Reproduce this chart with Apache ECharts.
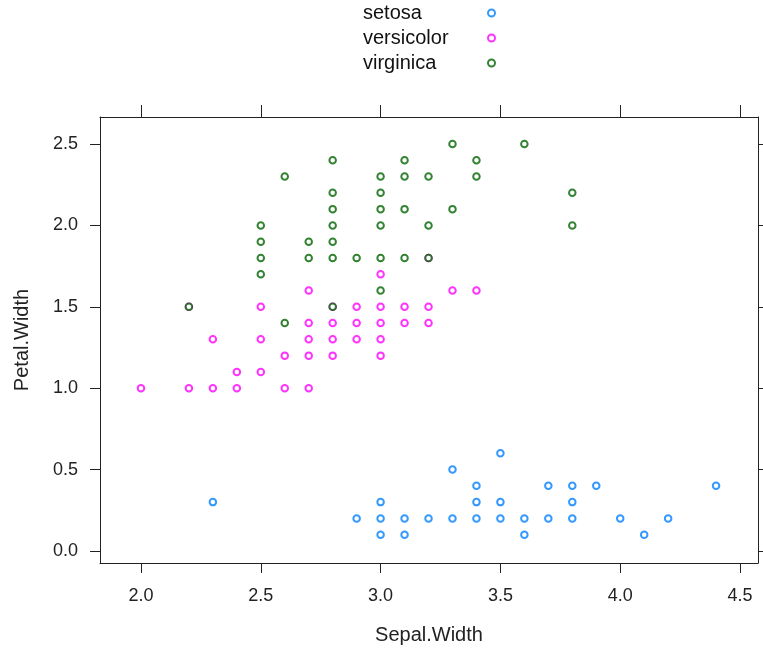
<!DOCTYPE html>
<html>
<head>
<meta charset="utf-8">
<script src="https://cdn.jsdelivr.net/npm/echarts@6/dist/echarts.min.js"></script>
<style>
  html, body { margin: 0; padding: 0; background: #fff; }
  #chart { width: 763px; height: 648px; }
</style>
</head>
<body>
<div id="chart"></div>
<script>
// Iris measurements: sepal width vs petal width, grouped by species
const species = ['setosa', 'versicolor', 'virginica'];

const setosaSepalWidth = [3.5,3.0,3.2,3.1,3.6,3.9,3.4,3.4,2.9,3.1,3.7,3.4,3.0,3.0,4.0,4.4,3.9,3.5,3.8,3.8,
  3.4,3.7,3.6,3.3,3.4,3.0,3.4,3.5,3.4,3.2,3.1,3.4,4.1,4.2,3.1,3.2,3.5,3.6,3.0,3.4,
  3.5,2.3,3.2,3.5,3.8,3.0,3.8,3.2,3.7,3.3];
const setosaPetalWidth = [0.2,0.2,0.2,0.2,0.2,0.4,0.3,0.2,0.2,0.1,0.2,0.2,0.1,0.1,0.2,0.4,0.4,0.3,0.3,0.3,
  0.2,0.4,0.2,0.5,0.2,0.2,0.4,0.2,0.2,0.2,0.2,0.4,0.1,0.2,0.2,0.2,0.2,0.1,0.2,0.2,
  0.3,0.3,0.2,0.6,0.4,0.3,0.2,0.2,0.2,0.2];

const versicolorSepalWidth = [3.2,3.2,3.1,2.3,2.8,2.8,3.3,2.4,2.9,2.7,2.0,3.0,2.2,2.9,2.9,3.1,3.0,2.7,2.2,2.5,
  3.2,2.8,2.5,2.8,2.9,3.0,2.8,3.0,2.9,2.6,2.4,2.4,2.7,2.7,3.0,3.4,3.1,2.3,3.0,2.5,
  2.6,3.0,2.6,2.3,2.7,3.0,2.9,2.9,2.5,2.8];
const versicolorPetalWidth = [1.4,1.5,1.5,1.3,1.5,1.3,1.6,1.0,1.3,1.4,1.0,1.5,1.0,1.4,1.3,1.4,1.5,1.0,1.5,1.1,
  1.8,1.3,1.5,1.2,1.3,1.4,1.4,1.7,1.5,1.0,1.1,1.0,1.2,1.6,1.5,1.6,1.5,1.3,1.3,1.3,
  1.2,1.4,1.2,1.0,1.3,1.2,1.3,1.3,1.1,1.3];

const virginicaSepalWidth = [3.3,2.7,3.0,2.9,3.0,3.0,2.5,2.9,2.5,3.6,3.2,2.7,3.0,2.5,2.8,3.2,3.0,3.8,2.6,2.2,
  3.2,2.8,2.8,2.7,3.3,3.2,2.8,3.0,2.8,3.0,2.8,3.8,2.8,2.8,2.6,3.0,3.4,3.1,3.0,3.1,
  3.1,3.1,2.7,3.2,3.3,3.0,2.5,3.0,3.4,3.0];
const virginicaPetalWidth = [2.5,1.9,2.1,1.8,2.2,2.1,1.7,1.8,1.8,2.5,2.0,1.9,2.1,2.0,2.4,2.3,1.8,2.2,2.3,1.5,
  2.3,2.0,2.0,1.8,2.1,1.8,1.8,1.8,2.1,1.6,1.9,2.0,2.2,1.5,1.4,2.3,2.4,1.8,1.8,2.1,
  2.4,2.3,1.9,2.3,2.5,2.3,1.9,2.0,2.3,1.8];

// Tick positions
const xTicks = [2.0, 2.5, 3.0, 3.5, 4.0, 4.5];
const yTicks = [0.0, 0.5, 1.0, 1.5, 2.0, 2.5];

const colors = ['#0080ff', '#ff00ff', '#006400'];
const groups = [
  [setosaSepalWidth, setosaPetalWidth],
  [versicolorSepalWidth, versicolorPetalWidth],
  [virginicaSepalWidth, virginicaPetalWidth]
];

// Pair up x/y values; repeated measurements share one open circle
function toPoints(xs, ys) {
  const seen = new Set();
  const pts = [];
  xs.forEach((x, k) => {
    const key = x + ',' + ys[k];
    if (!seen.has(key)) { seen.add(key); pts.push([x, ys[k]]); }
  });
  return pts;
}

const xRange = { min: 1.829, max: 4.575 };
const yRange = { min: -0.074, max: 2.666 };
const lineColor = '#222';
const font = 'Liberation Sans, Arial, sans-serif';

function axisBase(ticks, range, showLabel, tickLen, margin) {
  return {
    type: 'value',
    min: range.min,
    max: range.max,
    axisLine: { show: true, onZero: false, lineStyle: { color: lineColor, width: 1 } },
    axisTick: { show: true, inside: false, length: tickLen, customValues: ticks,
      lineStyle: { color: lineColor, width: 1 } },
    axisLabel: { show: showLabel, customValues: ticks, margin: margin,
      formatter: v => v.toFixed(1), color: '#222', fontSize: 18, fontFamily: font },
    splitLine: { show: false }
  };
}

const chart = echarts.init(document.getElementById('chart'), null, { renderer: 'canvas' });

chart.setOption({
  animation: false,
  backgroundColor: '#fff',
  color: colors,
  grid: { left: 100, top: 117, width: 658, height: 446, containLabel: false, outerBoundsMode: 'none' },
  legend: {
    data: species,
    orient: 'vertical',
    left: 358,
    top: -2,
    align: 'right',
    itemWidth: 7,
    itemHeight: 7,
    itemGap: 5,
    icon: 'emptyCircle',
    itemStyle: { borderWidth: 0.9 },
    formatter: name => '{t|' + name + '}',
    textStyle: {
      fontSize: 20, lineHeight: 20, color: '#111', fontFamily: font,
      rich: { t: { width: 120, align: 'left', fontSize: 20, lineHeight: 20, color: '#111', fontFamily: font } }
    }
  },
  xAxis: [
    Object.assign(axisBase(xTicks, xRange, true, 10, 24), {
      position: 'bottom',
      name: 'Sepal.Width',
      nameLocation: 'middle',
      nameGap: 62,
      nameTextStyle: { fontSize: 20, color: '#222', fontFamily: font }
    }),
    Object.assign(axisBase(xTicks, xRange, false, 12, 8), { position: 'top' })
  ],
  yAxis: [
    Object.assign(axisBase(yTicks, yRange, true, 10, 22), {
      position: 'left',
      name: 'Petal.Width',
      nameLocation: 'middle',
      nameGap: 68,
      nameTextStyle: { fontSize: 20, color: '#222', fontFamily: font }
    }),
    Object.assign(axisBase(yTicks, yRange, false, 10, 8), { position: 'right' })
  ],
  series: species.map((name, i) => ({
    name: name,
    type: 'scatter',
    xAxisIndex: 0,
    yAxisIndex: 0,
    symbol: 'emptyCircle',
    symbolSize: 6.5,
    itemStyle: { color: colors[i], borderColor: colors[i], borderWidth: 0.9 },
    data: toPoints(groups[i][0], groups[i][1])
  }))
});
</script>
</body>
</html>
